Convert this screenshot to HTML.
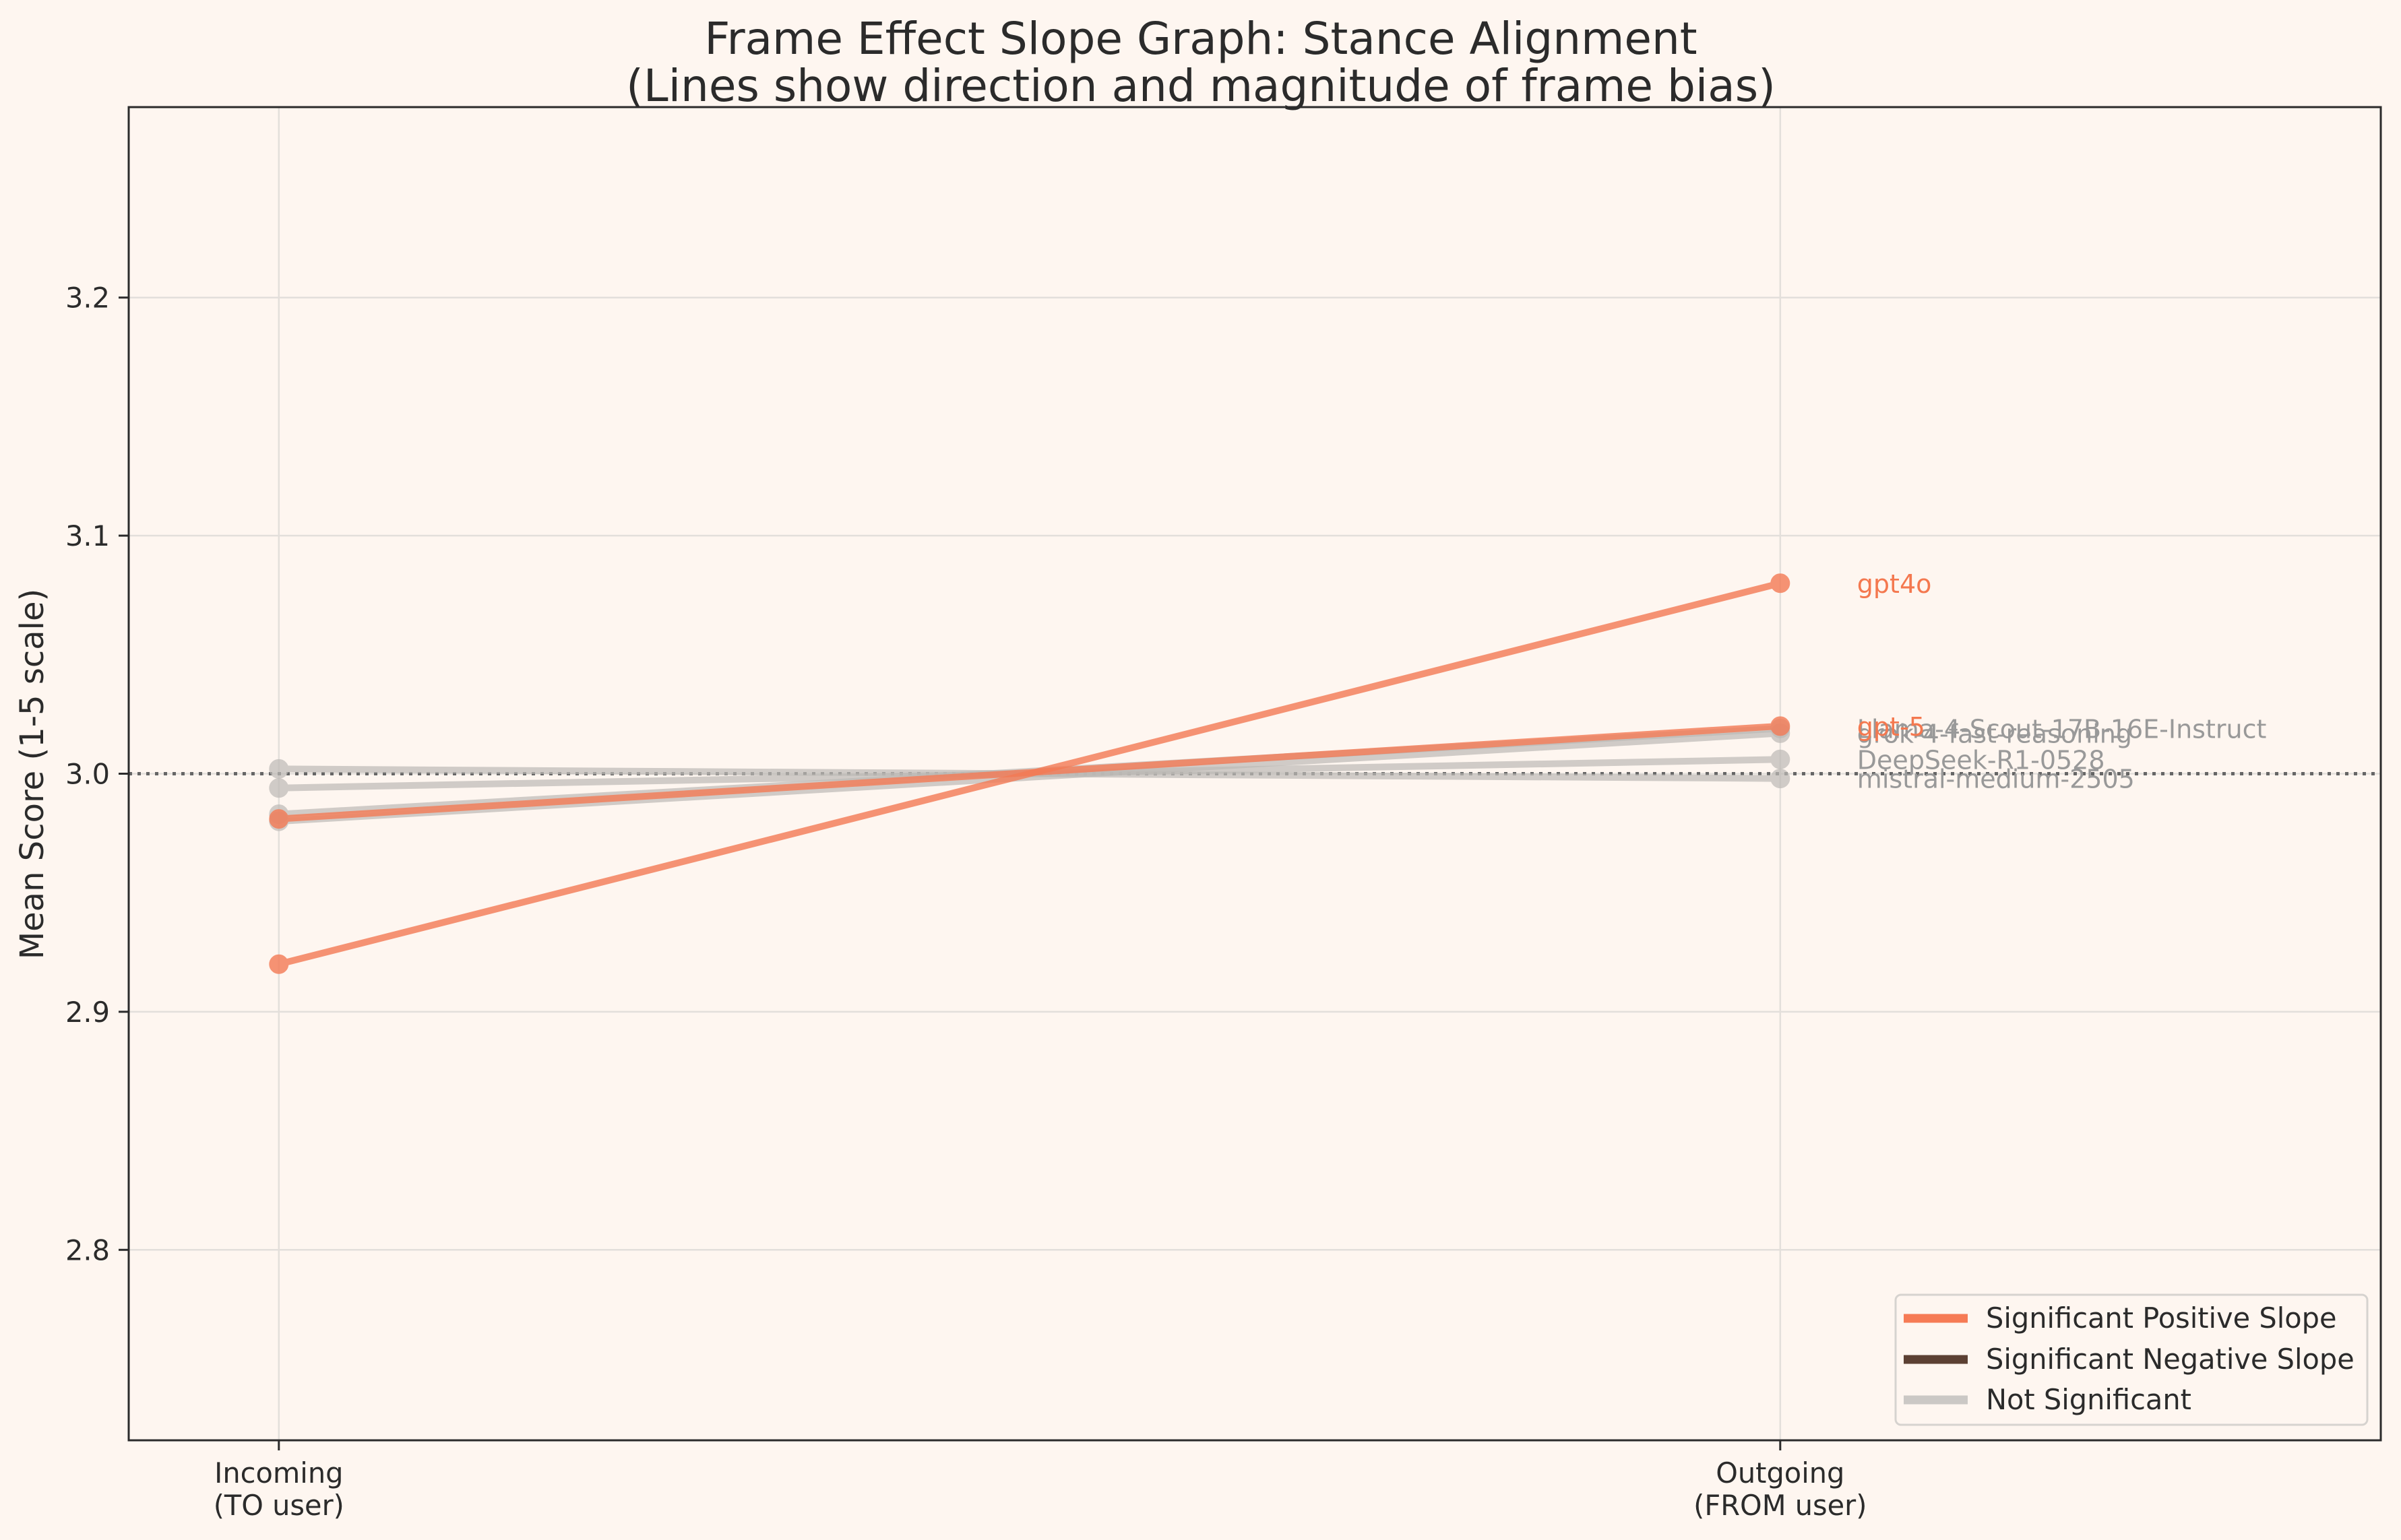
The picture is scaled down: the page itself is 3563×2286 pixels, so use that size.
<!DOCTYPE html>
<html><head><meta charset="utf-8">
<style>
html,body{margin:0;padding:0;background:#FEF6F0;}
svg{display:block;font-family:"DejaVu Sans","Liberation Sans",sans-serif;}
</style></head>
<body>
<svg id="chart" width="3563" height="2286" viewBox="0 0 3563 2286" xmlns="http://www.w3.org/2000/svg">
<rect x="0" y="0" width="3563" height="2286" fill="#FEF6F0"/>
<text x="1782" y="80" font-size="66" fill="#2b2b2b" text-anchor="middle">Frame Effect Slope Graph: Stance Alignment</text>
<text x="1782" y="150" font-size="66" fill="#2b2b2b" text-anchor="middle">(Lines show direction and magnitude of frame bias)</text>
<g id="grid"></g>
<g id="series"></g>
<g id="axes"></g>
<text transform="translate(64,1149) rotate(-90)" font-size="48" fill="#2b2b2b" text-anchor="middle">Mean Score (1-5 scale)</text>
<g id="legend">
  <rect x="2813" y="1922" width="700" height="193" rx="8" fill="#FEF6F0" stroke="#d6d3cf" stroke-width="3"/>
  <line x1="2825" y1="1957" x2="2920" y2="1957" stroke="#F67B55" stroke-width="13"/>
  <text x="2947" y="1971" font-size="41.5" fill="#2b2b2b">Significant Positive Slope</text>
  <line x1="2825" y1="2018" x2="2920" y2="2018" stroke="#5C4033" stroke-width="13"/>
  <text x="2947" y="2032" font-size="41.5" fill="#2b2b2b">Significant Negative Slope</text>
  <line x1="2825" y1="2078" x2="2920" y2="2078" stroke="#CBC8C5" stroke-width="13"/>
  <text x="2947" y="2092" font-size="41.5" fill="#2b2b2b">Not Significant</text>
</g>
</svg>
<script>
const models = ["mistral-medium-2505","DeepSeek-R1-0528","grok-4-fast-reasoning","Llama-4-Scout-17B-16E-Instruct","gpt-5","gpt4o"];
const incoming = [3.002, 2.994, 2.980, 2.983, 2.981, 2.920];
const outgoing = [2.998, 3.006, 3.017, 3.019, 3.020, 3.080];
const significant = [false, false, false, false, true, true];
const xCategories = ["Incoming\n(TO user)", "Outgoing\n(FROM user)"];
const yTicks = [2.8, 2.9, 3.0, 3.1, 3.2];
const yTickLabels = ["2.8", "2.9", "3.0", "3.1", "3.2"];

const NS = "http://www.w3.org/2000/svg";
const L = 191, R = 3533, T = 159, B = 2138;
const xMin = -0.1, xMax = 1.4, yMin = 2.72, yMax = 3.28;
function sx(v){ return L + (v - xMin) / (xMax - xMin) * (R - L); }
function sy(v){ return B - (v - yMin) / (yMax - yMin) * (B - T); }
function mk(tag, attrs, parent){
  const e = document.createElementNS(NS, tag);
  for (const k in attrs) e.setAttribute(k, attrs[k]);
  parent.appendChild(e);
  return e;
}
const grid = document.getElementById('grid');
const axes = document.getElementById('axes');
const series = document.getElementById('series');

yTicks.forEach((t, i) => {
  const g = mk('line', {x1: L, x2: R, y1: sy(t), y2: sy(t), stroke: '#e3dfdb', 'stroke-width': 2.5}, grid);
  
  
});
xCategories.forEach((c, i) => {
  const g = mk('line', {x1: sx(i), x2: sx(i), y1: T, y2: B, stroke: '#e3dfdb', 'stroke-width': 2.5}, grid);
  
  
});
const ref = mk('line', {x1: L, x2: R, y1: sy(3.0), y2: sy(3.0), stroke: '#666', 'stroke-width': 5, 'stroke-dasharray': '5 8'}, grid);



const order = [];
significant.forEach((s, i) => { if (!s) order.push(i); });
significant.forEach((s, i) => { if (s) order.push(i); });
order.forEach(i => {
  const col = significant[i] ? '#F47A55' : '#BDBAB6';
  const op = significant[i] ? 0.8 : 0.7;
  const g = mk('g', {opacity: op}, series);
  
  
  const ln = mk('line', {x1: sx(0), y1: sy(incoming[i]), x2: sx(1), y2: sy(outgoing[i]), stroke: col, 'stroke-width': 10, 'stroke-linecap': 'butt'}, g);
  
  
  const c1 = mk('circle', {cx: sx(0), cy: sy(incoming[i]), r: 13.5, fill: col, stroke: col, 'stroke-width': 2}, g);
  
  
  const c2 = mk('circle', {cx: sx(1), cy: sy(outgoing[i]), r: 13.5, fill: col, stroke: col, 'stroke-width': 2}, g);
  
  
  const tx = mk('text', {x: sx(1) + 114, y: sy(outgoing[i]) + 14, 'font-size': 38, fill: significant[i] ? '#F4784F' : '#999999'}, series);
  tx.textContent = models[i];
  
  
});

const frame = mk('rect', {x: L, y: T, width: R - L, height: B - T, fill: 'none', stroke: '#2b2b2b', 'stroke-width': 3}, axes);


yTicks.forEach((t, i) => {
  const tk = mk('line', {x1: L - 15, x2: L, y1: sy(t), y2: sy(t), stroke: '#2b2b2b', 'stroke-width': 3}, axes);
  
  
  const lb = mk('text', {x: L - 28, y: sy(t) + 15, 'font-size': 41.5, fill: '#2b2b2b', 'text-anchor': 'end'}, axes);
  lb.textContent = yTickLabels[i];
  
  
});
xCategories.forEach((c, i) => {
  const tk = mk('line', {x1: sx(i), x2: sx(i), y1: B, y2: B + 15, stroke: '#2b2b2b', 'stroke-width': 3}, axes);
  
  
  const parts = c.split('\n');
  parts.forEach((p, j) => {
    const lb = mk('text', {x: sx(i), y: 2201 + j * 48, 'font-size': 41.5, fill: '#2b2b2b', 'text-anchor': 'middle'}, axes);
    lb.textContent = p;
    
    
  });
});
</script>
</body></html>
